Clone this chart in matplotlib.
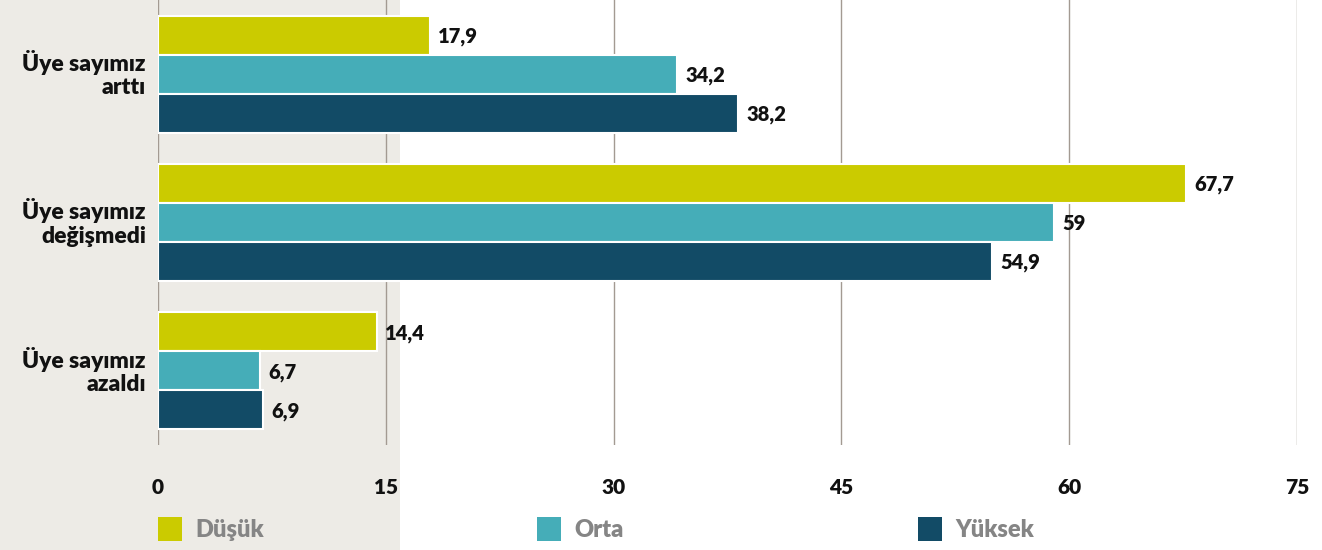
import matplotlib.pyplot as plt
from matplotlib.patches import Rectangle

plt.rcParams['font.family'] = ['Lato', 'DejaVu Sans']
plt.rcParams['font.weight'] = 'heavy'

categories = ["Üye sayımız\narttı", "Üye sayımız\ndeğişmedi", "Üye sayımız\nazaldı"]
series_names = ["Düşük", "Orta", "Yüksek"]
dusuk = [17.9, 67.7, 14.4]
orta = [34.2, 59.0, 6.7]
yuksek = [38.2, 54.9, 6.9]
ticks = [0, 15, 30, 45, 60, 75]

colors = ["#cbcb00", "#45adb8", "#124b66"]
series = [dusuk, orta, yuksek]

fig = plt.figure(figsize=(13.22, 5.5), dpi=100)
W, H = 1322, 550

# grey panel behind the category labels
panel = Rectangle((0, 0), 400 / W, 1, transform=fig.transFigure,
                  facecolor="#edebe6", edgecolor="none", zorder=-10)
fig.add_artist(panel)

ax = fig.add_axes([158 / W, 1 - 445 / H, (1297 - 158) / W, 445 / H])
ax.patch.set_alpha(0)
ax.set_xlim(0, 75)
ax.set_ylim(2.5, -0.5)

bh = 0.263
for i, (vals, col) in enumerate(zip(series, colors)):
    ys = [c + (i - 1) * bh for c in range(len(categories))]
    ax.barh(ys, vals, height=bh, color=col, edgecolor="white", linewidth=1.5, zorder=3)
    for y, v in zip(ys, vals):
        txt = f"{v:g}".replace(".", ",")
        ax.text(v + 0.55, y + 0.01, txt, va="center", ha="left", fontsize=14.5,
                fontweight="heavy", color="#111111", zorder=4)

for t in ticks:
    ax.axvline(t, color="#a39a92", linewidth=1, zorder=1)
    fig.text((158 + t * 1139 / 75) / W, 1 - 487 / H, str(t), ha="center", va="center",
             fontsize=15, fontweight="heavy", color="#111111")

for s in ax.spines.values():
    s.set_visible(False)
ax.set_xticks([])
ax.set_yticks([])

for c, lab in enumerate(categories):
    ax.text(-0.8, c, lab, ha="right", va="center", fontsize=16.5, fontweight="heavy",
            color="#111111", linespacing=1.13)

# legend along the bottom
leg_x = [158, 537, 918]
for x, name, col in zip(leg_x, series_names, colors):
    fig.add_artist(Rectangle((x / W, 1 - 541 / H), 24 / W, 24 / H,
                             transform=fig.transFigure, facecolor=col,
                             edgecolor="none"))
    fig.text((x + 37) / W, 1 - 530 / H, name, ha="left", va="center",
             fontsize=17, fontweight="heavy", color="#858585")

fig.savefig("out.png", dpi=100)
